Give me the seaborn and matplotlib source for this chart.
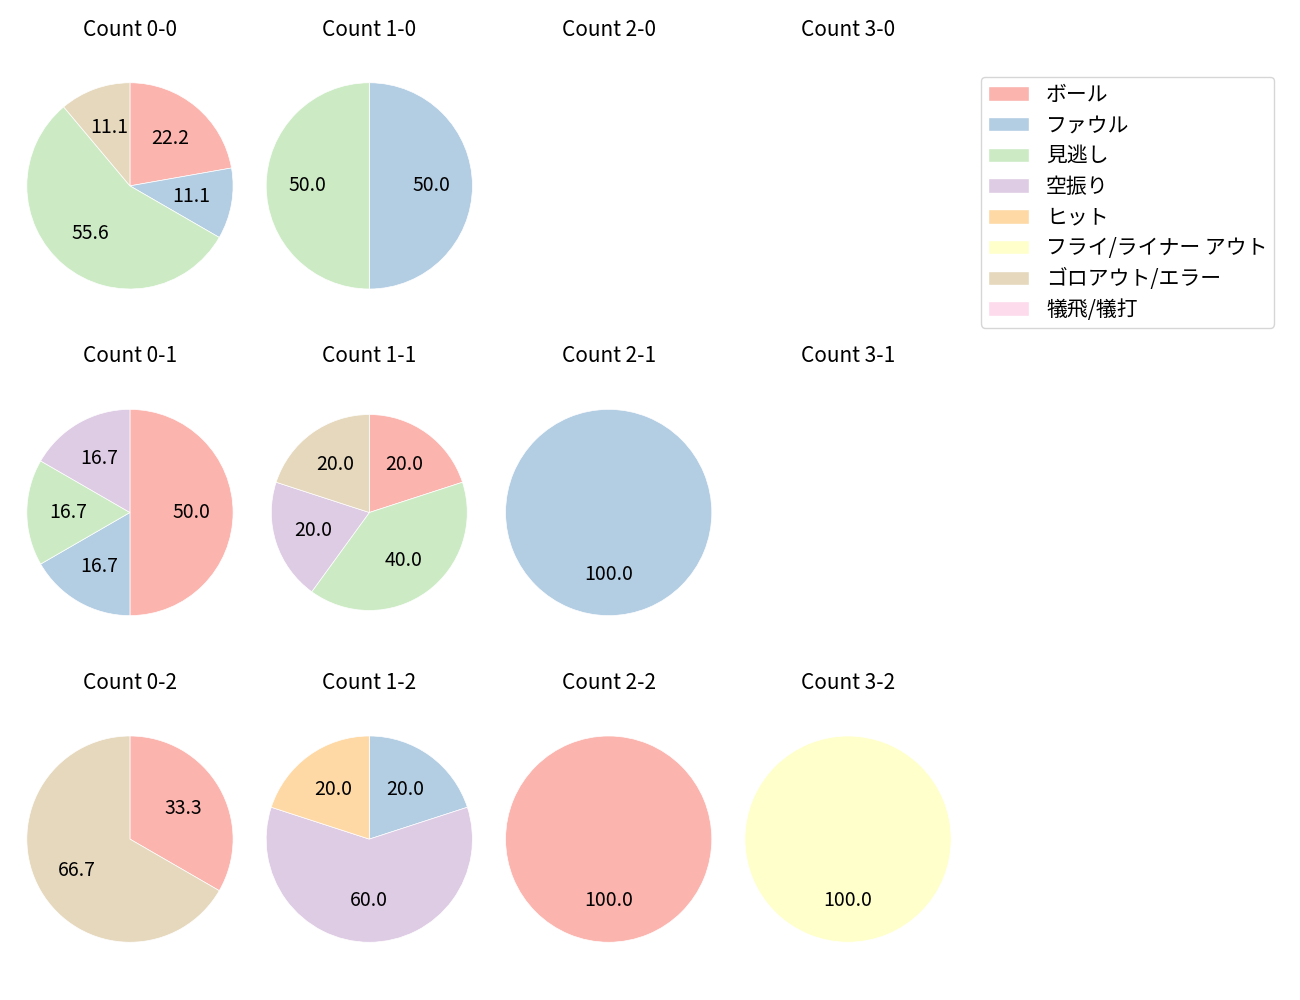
import matplotlib
matplotlib.use("Agg")
import matplotlib.pyplot as plt
import seaborn as sns
from matplotlib.patches import Patch

sns.set_style("white")
plt.rcParams['font.family'] = ['Noto Sans CJK JP', 'DejaVu Sans']
plt.rcParams['text.color'] = 'black'

categories = ["ボール", "ファウル", "見逃し", "空振り", "ヒット",
              "フライ/ライナー アウト", "ゴロアウト/エラー", "犠飛/犠打"]

# counts per category for each ball-strike count (balls-strikes)
count_0_0 = [2, 1, 5, 0, 0, 0, 1, 0]
count_1_0 = [0, 1, 1, 0, 0, 0, 0, 0]
count_2_0 = [0, 0, 0, 0, 0, 0, 0, 0]
count_3_0 = [0, 0, 0, 0, 0, 0, 0, 0]
count_0_1 = [3, 1, 1, 1, 0, 0, 0, 0]
count_1_1 = [1, 0, 2, 1, 0, 0, 1, 0]
count_2_1 = [0, 1, 0, 0, 0, 0, 0, 0]
count_3_1 = [0, 0, 0, 0, 0, 0, 0, 0]
count_0_2 = [1, 0, 0, 0, 0, 0, 2, 0]
count_1_2 = [0, 1, 0, 3, 1, 0, 0, 0]
count_2_2 = [1, 0, 0, 0, 0, 0, 0, 0]
count_3_2 = [0, 0, 0, 0, 0, 1, 0, 0]

grid = [
    [("0-0", count_0_0), ("1-0", count_1_0), ("2-0", count_2_0), ("3-0", count_3_0)],
    [("0-1", count_0_1), ("1-1", count_1_1), ("2-1", count_2_1), ("3-1", count_3_1)],
    [("0-2", count_0_2), ("1-2", count_1_2), ("2-2", count_2_2), ("3-2", count_3_2)],
]

colors = sns.color_palette("Pastel1", 8)

fig, axes = plt.subplots(3, 4, figsize=(13, 10), dpi=100)
fig.subplots_adjust(left=0.0127, right=0.7396, top=0.956, bottom=0.019,
                    wspace=0.055, hspace=0.151)

for r, row in enumerate(grid):
    for c, (label, vals) in enumerate(row):
        ax = axes[r, c]
        ax.set_title(f"Count {label}", fontsize=15)
        if sum(vals) > 0:
            v = [x for x in vals if x > 0]
            cl = [colors[i] for i, x in enumerate(vals) if x > 0]
            rad = 0.95 if label == "1-1" else 1.0
            ax.pie(v, colors=cl, autopct="%.1f", startangle=90,
                   counterclock=False, radius=rad,
                   wedgeprops={"linewidth": 0.5, "edgecolor": "white"},
                   textprops={"fontsize": 14, "color": "black"})
            ax.axis("equal")
            if rad != 1.0:
                ax.set_xlim(-1.1, 1.1)
                ax.set_ylim(-1.1, 1.1)
        ax.axis("off")

handles = [Patch(facecolor=colors[i], label=categories[i]) for i in range(8)]
fig.legend(handles=handles, loc="upper left", bbox_to_anchor=(0.7546, 0.923),
           borderaxespad=0, fontsize=15, labelspacing=0.42, borderpad=0.32)

fig.savefig("out.png", dpi=100)
